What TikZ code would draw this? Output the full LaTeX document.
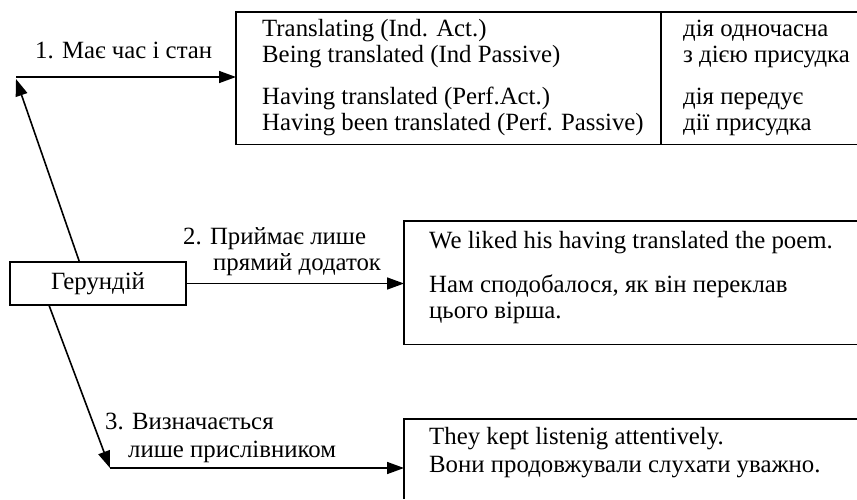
\documentclass[tikz,border=0pt]{standalone}
\usepackage{fontspec}
\setmainfont{Liberation Serif}
\usetikzlibrary{arrows.meta,calc}
\begin{document}
\begin{tikzpicture}[x=1pt,y=-1pt,
  txt/.style={anchor=base west, inner sep=0pt, font=\fontsize{24.8}{26}\selectfont},
  frame/.style={line width=1.6pt},
  arr/.style={line width=1.6pt, -{Triangle[length=17pt,width=12pt]}},
  boxa/.style={draw=none, inner sep=0pt, anchor=north west}
]
\useasboundingbox (0,0) rectangle (857,499);
% boxes (open to the right / bottom edge)
\node[boxa, minimum width=622pt, minimum height=132pt] (b1) at (236,12) {};
\node[boxa, minimum width=454pt, minimum height=123pt] (b2) at (404,221) {};
\node[boxa, minimum width=454pt, minimum height=80pt] (b3) at (404,419) {};
\draw[frame] (b1.north east) -- (b1.north west) -- (b1.south west) -- (b1.south east);
\draw[frame] (b2.north east) -- (b2.north west) -- (b2.south west) -- (b2.south east);
\draw[frame] (b3.north east) -- (b3.north west) -- (b3.south west);
\coordinate (dv) at (661,12);
\draw[frame] (dv) -- (dv |- b1.south);
% central node
\node[draw, line width=1.6pt, minimum width=176pt, minimum height=43pt, inner sep=0pt,
      font=\fontsize{24.8}{26}\selectfont] (ger) at (98,283.5) {Герундій};
% connectors
\coordinate (c1) at (16,77);
\coordinate (t1) at (16,79);
\coordinate (c3) at (110,468);
\draw[arr] ([xshift=70pt]ger.north west) -- (t1);
\draw[arr] (c1) -- (c1 -| b1.west);
\draw[arr] (ger.east) -- (ger.east -| b2.west);
\draw[arr] ([xshift=40pt]ger.south west) -- (c3);
\draw[arr] (c3) -- (c3 -| b3.west);
% labels
\node[txt] (l1) at (35,58) {1. Має час і стан};
\node[txt] (l2a) at (183,244) {2. Приймає лише};
\node[txt] (l2b) at (213,270) {прямий додаток};
\node[txt] (l3a) at (105,429) {3. Визначається};
\node[txt] (l3b) at (128,457) {лише прислівником};
% box 1 text
\node[txt] (a1) at (262,36) {Translating (Ind. Act.)};
\node[txt] (a2) at (262,62) {Being translated (Ind Passive)};
\node[txt] (a3) at (262,104) {Having translated (Perf.Act.)};
\node[txt] (a4) at (262,130) {Having been translated (Perf. Passive)};
\node[txt] (r1) at (683,36) {дія одночасна};
\node[txt] (r2) at (683,62) {з дією присудка};
\node[txt] (r3) at (683,104) {дія передує};
\node[txt] (r4) at (683,130) {дії присудка};
% box 2 text
\node[txt] (e1) at (429,248) {We liked his having translated the poem.};
\node[txt] (e2) at (429,292) {Нам сподобалося, як він переклав};
\node[txt] (e3) at (429,318) {цього вірша.};
% box 3 text
\node[txt] (f1) at (429,444) {They kept listenig attentively.};
\node[txt] (f2) at (429,472) {Вони продовжували слухати уважно.};
\end{tikzpicture}
\end{document}
